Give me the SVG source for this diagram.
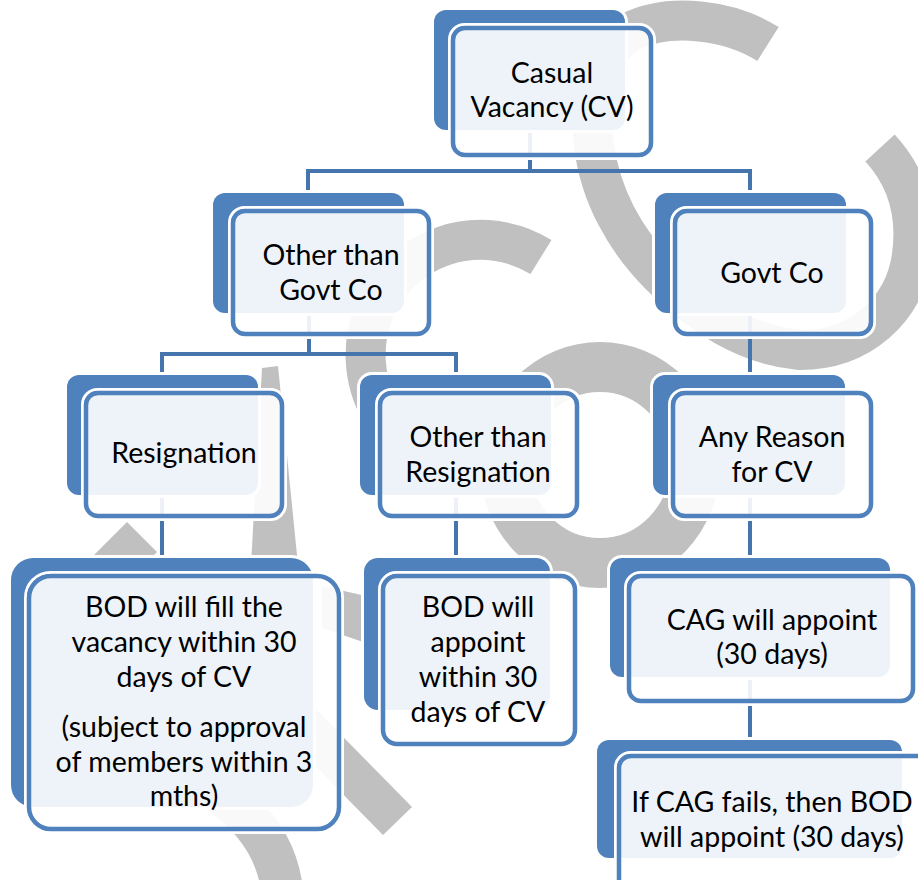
<svg xmlns="http://www.w3.org/2000/svg" width="918" height="880" viewBox="0 0 918 880">
  <style>
    .wm { fill: none; stroke: #c0c0c0; stroke-linecap: butt; }
    .wmf { fill: #c0c0c0; }
    .back { fill: #4f81bd; stroke: #ffffff; stroke-width: 6; paint-order: stroke; }
    .halo { fill: none; stroke: #ffffff; stroke-width: 3; }
    .front { fill: #ffffff; fill-opacity: 0.9; stroke: #4f81bd; stroke-width: 4.5; }
    .link { fill: none; stroke: #4675ad; stroke-width: 4; }
    .label { font-family: Lato, "Liberation Sans", sans-serif; font-size: 28.5px; fill: #000000; text-anchor: middle; }
  </style>

  <rect width="918" height="880" fill="#ffffff"/>

  <!-- background watermark -->
  <g id="watermark">
    <path class="wm" stroke-width="40" d="M768,44 C730,20 670,12 630,32 C595,52 588,100 594,145 C600,195 625,240 660,275 C700,315 745,345 800,350 C860,350 905,310 912,255 C918,210 905,175 880,148"/>
    <path class="wm" stroke-width="40" d="M541,257 A115,115 0 1 0 460,468"/>
    <ellipse class="wm" stroke-width="50" cx="600" cy="465" rx="95" ry="98"/>
    <polygon class="wmf" points="262,368 278,366 298,565 251,565"/>
    <polygon class="wmf" points="322,586 366,596 366,643 322,628"/>
    <polygon class="wmf" points="300,693 412,807 383,835 271,721"/>
    <path class="wm" stroke-width="42" d="M215,790 Q275,830 282,890"/>
    <polygon class="wmf" points="127,522 157,552 60,649 30,619"/>
  </g>

  <!-- connectors -->
  <g id="connectors">
    <path class="link" d="M530,130 V171"/>
    <path class="link" d="M308,190 V171 H750 V190"/>
    <path class="link" d="M309,313 V354"/>
    <path class="link" d="M162,372 V354 H456 V372"/>
    <path class="link" d="M162,495 V555"/>
    <path class="link" d="M456,495 V555"/>
    <path class="link" d="M750,313 V372"/>
    <path class="link" d="M750,495 V555"/>
    <path class="link" d="M750,677 V737"/>
  </g>

  <g id="node-casual-vacancy">
    <rect class="back" x="434" y="10" width="191" height="120" rx="12"/>
    <rect class="halo" x="449.5" y="24.5" width="205" height="134" rx="15"/>
    <rect class="front" x="453" y="28" width="198" height="127" rx="12"/>
    <text class="label" x="552" y="83">Casual</text>
    <text class="label" x="552" y="117">Vacancy (CV)</text>
  </g>

  <g id="node-other-than-govt">
    <rect class="back" x="213" y="193" width="191" height="120" rx="12"/>
    <rect class="halo" x="229.5" y="207.5" width="203" height="130" rx="15"/>
    <rect class="front" x="233" y="211" width="196" height="123" rx="12"/>
    <text class="label" x="331" y="265">Other than</text>
    <text class="label" x="331" y="300">Govt Co</text>
  </g>

  <g id="node-govt-co">
    <rect class="back" x="655" y="193" width="191" height="120" rx="12"/>
    <rect class="halo" x="671.5" y="207.5" width="203" height="130" rx="15"/>
    <rect class="front" x="675" y="211" width="196" height="123" rx="12"/>
    <text class="label" x="772" y="283">Govt Co</text>
  </g>

  <g id="node-resignation">
    <rect class="back" x="67" y="375" width="191" height="120" rx="12"/>
    <rect class="halo" x="82.5" y="389.5" width="203" height="130" rx="15"/>
    <rect class="front" x="86" y="393" width="196" height="123" rx="12"/>
    <text class="label" x="184" y="463">Resignation</text>
  </g>

  <g id="node-other-than-resignation">
    <rect class="back" x="360" y="375" width="191" height="120" rx="12"/>
    <rect class="halo" x="376.5" y="389.5" width="204" height="130" rx="15"/>
    <rect class="front" x="380" y="393" width="197" height="123" rx="12"/>
    <text class="label" x="478" y="447">Other than</text>
    <text class="label" x="478" y="482">Resignation</text>
  </g>

  <g id="node-any-reason">
    <rect class="back" x="653" y="375" width="192" height="120" rx="12"/>
    <rect class="halo" x="669.5" y="389.5" width="205" height="130" rx="15"/>
    <rect class="front" x="673" y="393" width="198" height="123" rx="12"/>
    <text class="label" x="772" y="447">Any Reason</text>
    <text class="label" x="772" y="482">for CV</text>
  </g>

  <g id="node-bod-fill">
    <rect class="back" x="11" y="558" width="302" height="249" rx="22"/>
    <rect class="halo" x="25.5" y="572.5" width="317" height="260" rx="25"/>
    <rect class="front" x="29" y="576" width="310" height="253" rx="22"/>
    <text class="label" x="184" y="617">BOD will fill the</text>
    <text class="label" x="184" y="652">vacancy within 30</text>
    <text class="label" x="184" y="687">days of CV</text>
    <text class="label" x="184" y="737">(subject to approval</text>
    <text class="label" x="184" y="772">of members within 3</text>
    <text class="label" x="184" y="806">mths)</text>
  </g>

  <g id="node-bod-appoint">
    <rect class="back" x="364" y="558" width="186" height="152" rx="14"/>
    <rect class="halo" x="379.5" y="572.5" width="199" height="175" rx="17"/>
    <rect class="front" x="383" y="576" width="192" height="168" rx="14"/>
    <text class="label" x="478" y="617">BOD will</text>
    <text class="label" x="478" y="652">appoint</text>
    <text class="label" x="478" y="687">within 30</text>
    <text class="label" x="478" y="722">days of CV</text>
  </g>

  <g id="node-cag-appoint">
    <rect class="back" x="610" y="558" width="280" height="119" rx="12"/>
    <rect class="halo" x="625.5" y="572.5" width="291" height="132" rx="15"/>
    <rect class="front" x="629" y="576" width="284" height="125" rx="12"/>
    <text class="label" x="772" y="630">CAG will appoint</text>
    <text class="label" x="772" y="664">(30 days)</text>
  </g>

  <g id="node-cag-fails">
    <rect class="back" x="597" y="740" width="305" height="118" rx="12"/>
    <rect class="halo" x="615.5" y="752.5" width="337" height="157" rx="15"/>
    <rect class="front" x="619" y="756" width="330" height="150" rx="12"/>
    <text class="label" x="772" y="812">If CAG fails, then BOD</text>
    <text class="label" x="772" y="847">will appoint (30 days)</text>
  </g>
</svg>
